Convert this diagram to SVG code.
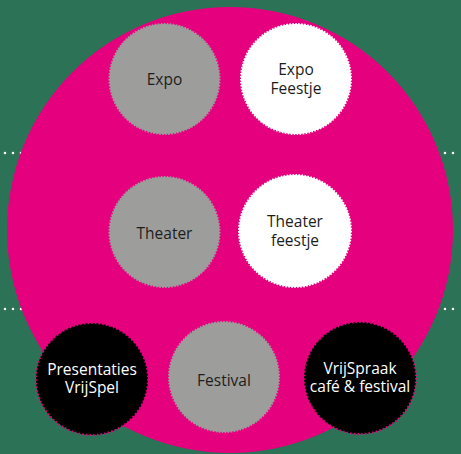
<svg xmlns="http://www.w3.org/2000/svg" width="461" height="454" viewBox="0 0 461 454">
<style>
.bg{fill:#2c7256}
.dots{stroke:#fff;stroke-width:2.6;stroke-linecap:round;stroke-dasharray:0 8;fill:none}
.big{fill:#e5007e}
.gray{fill:#9d9d9c;stroke:#9d9d9c;stroke-width:2;stroke-dasharray:1.6 1.4}
.white{fill:#fff;stroke:#fff;stroke-width:2;stroke-dasharray:1.6 1.4}
.black{fill:#000;stroke:#e5007e;stroke-width:2;stroke-dasharray:1.5 2.2}
text{font-family:"Open Sans","Noto Sans",sans-serif;font-size:15.5px;text-anchor:middle}
.dk{fill:#1d1d1b}
.lt{fill:#fff}
</style>
<rect class="bg" x="0" y="0" width="461" height="454"/>
<g id="connectors">
<line class="dots" x1="5" y1="153" x2="461" y2="153"/>
<line class="dots" x1="5" y1="309" x2="461" y2="309"/>
</g>
<circle class="big" cx="230" cy="230" r="223"/>
<g id="expo">
<circle class="gray" cx="164.5" cy="79" r="55"/>
<text class="dk" x="164.5" y="84.5">Expo</text>
</g>
<g id="expo-feestje">
<circle class="white" cx="296" cy="79" r="55"/>
<text class="dk" x="296" y="75">Expo</text>
<text class="dk" x="296" y="94">Feestje</text>
</g>
<g id="theater">
<circle class="gray" cx="164.5" cy="232" r="55"/>
<text class="dk" x="164.5" y="239">Theater</text>
</g>
<g id="theater-feestje">
<circle class="white" cx="295" cy="231" r="56"/>
<text class="dk" x="295" y="227">Theater</text>
<text class="dk" x="295" y="246">feestje</text>
</g>
<g id="presentaties">
<circle class="black" cx="92" cy="379" r="56"/>
<text class="lt" x="92" y="375">Presentaties</text>
<text class="lt" x="92" y="393">VrijSpel</text>
</g>
<g id="festival">
<circle class="gray" cx="224" cy="377" r="55"/>
<text class="dk" x="224" y="386">Festival</text>
</g>
<g id="vrijspraak">
<circle class="black" cx="360" cy="378" r="56"/>
<text class="lt" x="360" y="373.5">VrijSpraak</text>
<text class="lt" x="360" y="392">café &amp; festival</text>
</g>
</svg>
